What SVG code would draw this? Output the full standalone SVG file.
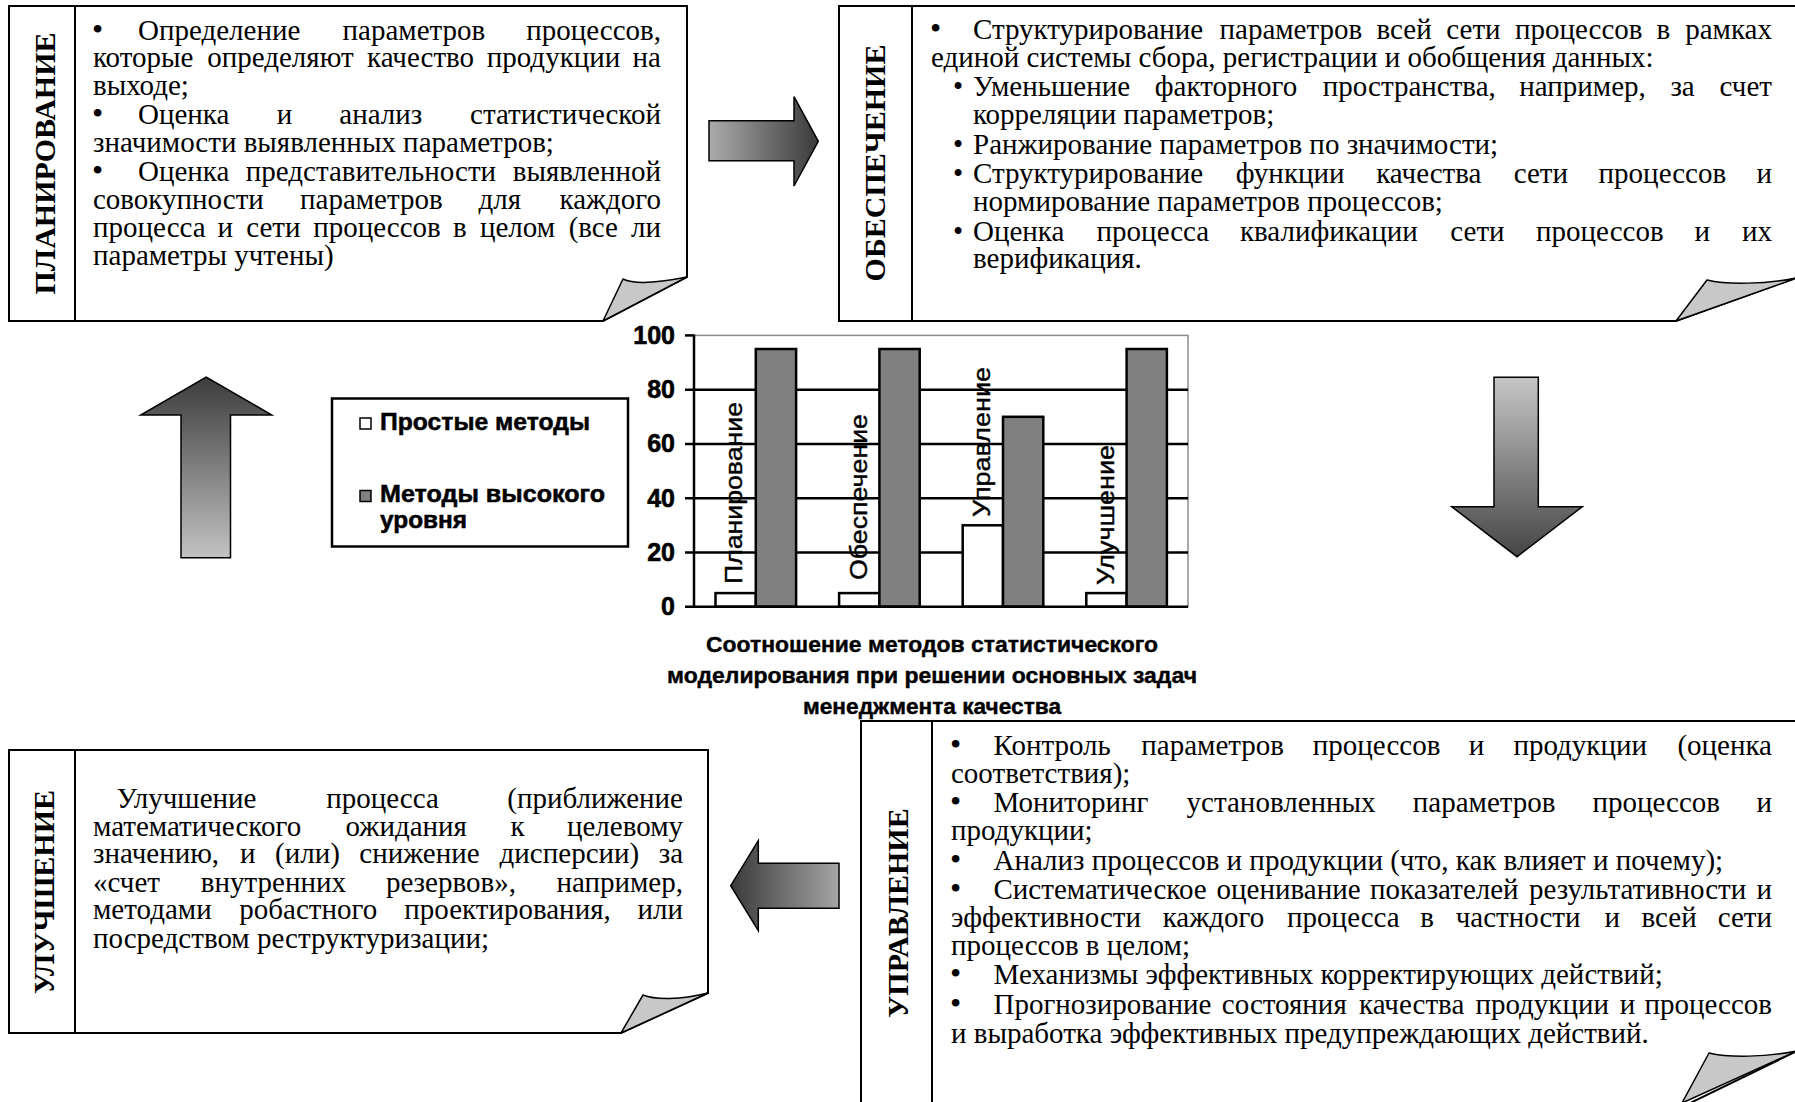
<svg xmlns="http://www.w3.org/2000/svg" width="1795" height="1102" viewBox="0 0 1795 1102">
<defs>
<style>
.box{fill:#fff;stroke:#000;stroke-width:2}
.dv{stroke:#000;stroke-width:2}
.fold{fill:#c8c8c8;stroke:#000;stroke-width:1.5;stroke-linejoin:round}
.t{font-family:"Liberation Serif","Times New Roman",serif;font-size:29px;fill:#000}
.b{font-size:32px}
.lbl{font-family:"Liberation Serif","Times New Roman",serif;font-size:30px;font-weight:bold;fill:#000;text-anchor:middle}
.ax{font-family:"Liberation Sans",Arial,sans-serif;font-weight:bold;font-size:25px;text-anchor:end;stroke:#000;stroke-width:0.6}
.cat{font-family:"Liberation Sans",Arial,sans-serif;font-size:24px;stroke:#000;stroke-width:0.4}
.ct{font-family:"Liberation Sans",Arial,sans-serif;font-weight:bold;font-size:22px;stroke:#000;stroke-width:0.4}
.lg{font-family:"Liberation Sans",Arial,sans-serif;font-weight:bold;font-size:23px;stroke:#000;stroke-width:0.5}
.grid{stroke:#000;stroke-width:2.5}
.bw{fill:#fff;stroke:#000;stroke-width:2.5}
.bg{fill:#808080;stroke:#000;stroke-width:2.5}
.arr{stroke:#000;stroke-width:1.5;stroke-linejoin:miter}
</style>
<linearGradient id="gR" x1="0" y1="0" x2="1" y2="0"><stop offset="0" stop-color="#ababab"/><stop offset="1" stop-color="#3a3a3a"/></linearGradient>
<linearGradient id="gL" x1="0" y1="0" x2="1" y2="0"><stop offset="0" stop-color="#3a3a3a"/><stop offset="1" stop-color="#a5a5a5"/></linearGradient>
<linearGradient id="gU" x1="0" y1="0" x2="0" y2="1"><stop offset="0" stop-color="#3c3c3c"/><stop offset="1" stop-color="#c2c2c2"/></linearGradient>
<linearGradient id="gD" x1="0" y1="0" x2="0" y2="1"><stop offset="0" stop-color="#c6c6c6"/><stop offset="1" stop-color="#454545"/></linearGradient>
</defs>
<rect width="1795" height="1102" fill="#fff"/>

<g id="node-planning">
<path class="box" d="M9,6 H687 V277 L603,321 H9 Z"/>
<line class="dv" x1="75" y1="6" x2="75" y2="321"/>
<path class="fold" d="M603,321 L623,279 C633,284 652,284 687,277 Z"/>
<text class="lbl" transform="translate(54.5,163.5) rotate(-90)">ПЛАНИРОВАНИЕ</text>
<text class="t" y="39.5"><tspan class="b" x="92">•</tspan><tspan x="138">Определение</tspan><tspan x="342.6">параметров</tspan><tspan x="661" text-anchor="end">процессов,</tspan></text>
<text class="t" y="67"><tspan x="93">которые</tspan><tspan x="207.2">определяют</tspan><tspan x="367">качество</tspan><tspan x="486.7">продукции</tspan><tspan x="661" text-anchor="end">на</tspan></text>
<text class="t" x="93" y="94.5">выходе;</text>
<text class="t" y="124"><tspan class="b" x="92">•</tspan><tspan x="138">Оценка</tspan><tspan x="276.8">и</tspan><tspan x="339.3">анализ</tspan><tspan x="661" text-anchor="end">статистической</tspan></text>
<text class="t" x="93" y="151.5">значимости выявленных параметров;</text>
<text class="t" y="181"><tspan class="b" x="92">•</tspan><tspan x="138">Оценка</tspan><tspan x="245.8">представительности</tspan><tspan x="661" text-anchor="end">выявленной</tspan></text>
<text class="t" y="208.5"><tspan x="93">совокупности</tspan><tspan x="300">параметров</tspan><tspan x="478.6">для</tspan><tspan x="661" text-anchor="end">каждого</tspan></text>
<text class="t" y="236.5"><tspan x="93">процесса</tspan><tspan x="217.6">и</tspan><tspan x="246.2">сети</tspan><tspan x="313.2">процессов</tspan><tspan x="453.1">в</tspan><tspan x="479.9">целом</tspan><tspan x="568.7">(все</tspan><tspan x="661" text-anchor="end">ли</tspan></text>
<text class="t" x="93" y="265">параметры учтены)</text>
</g>

<g id="node-provision">
<path class="box" d="M1800,6 H839 V321 H1676 L1800,276.5 Z"/>
<line class="dv" x1="912" y1="6" x2="912" y2="321"/>
<path class="fold" d="M1676,321 L1707,280 C1728,285 1765,284 1797,278 Z"/>
<text class="lbl" transform="translate(885,163) rotate(-90)">ОБЕСПЕЧЕНИЕ</text>
<text class="t" y="39"><tspan class="b" x="930">•</tspan><tspan x="973">Структурирование</tspan><tspan x="1219.5">параметров</tspan><tspan x="1376.6">всей</tspan><tspan x="1446.3">сети</tspan><tspan x="1514.9">процессов</tspan><tspan x="1656.4">в</tspan><tspan x="1772" text-anchor="end">рамках</tspan></text>
<text class="t" x="931" y="66.5">единой системы сбора, регистрации и обобщения данных:</text>
<text class="t" y="96"><tspan x="953">•</tspan><tspan x="973">Уменьшение</tspan><tspan x="1154.8">факторного</tspan><tspan x="1322.8">пространства,</tspan><tspan x="1519.3">например,</tspan><tspan x="1670.4">за</tspan><tspan x="1772" text-anchor="end">счет</tspan></text>
<text class="t" x="973" y="123.5">корреляции параметров;</text>
<text class="t" y="153.5"><tspan x="953">•</tspan><tspan x="973">Ранжирование параметров по значимости;</tspan></text>
<text class="t" y="183"><tspan x="953">•</tspan><tspan x="973">Структурирование</tspan><tspan x="1235.8">функции</tspan><tspan x="1376.2">качества</tspan><tspan x="1513.7">сети</tspan><tspan x="1598.6">процессов</tspan><tspan x="1772" text-anchor="end">и</tspan></text>
<text class="t" x="973" y="210.5">нормирование параметров процессов;</text>
<text class="t" y="240.5"><tspan x="953">•</tspan><tspan x="973">Оценка</tspan><tspan x="1096.6">процесса</tspan><tspan x="1239.9">квалификации</tspan><tspan x="1450.3">сети</tspan><tspan x="1536">процессов</tspan><tspan x="1694.6">и</tspan><tspan x="1772" text-anchor="end">их</tspan></text>
<text class="t" x="973" y="268">верификация.</text>
</g>

<g id="node-improvement">
<path class="box" d="M9,750 H708 V993 L621,1033 H9 Z"/>
<line class="dv" x1="75" y1="750" x2="75" y2="1033"/>
<path class="fold" d="M621,1033 L643,995 C655,1000 680,1000 708,993 Z"/>
<text class="lbl" transform="translate(53.5,892) rotate(-90)">УЛУЧШЕНИЕ</text>
<text class="t" y="808"><tspan x="116.5">Улучшение</tspan><tspan x="326.2">процесса</tspan><tspan x="683" text-anchor="end">(приближение</tspan></text>
<text class="t" y="835.5"><tspan x="93">математического</tspan><tspan x="345.6">ожидания</tspan><tspan x="510.4">к</tspan><tspan x="683" text-anchor="end">целевому</tspan></text>
<text class="t" y="863"><tspan x="93">значению,</tspan><tspan x="239.9">и</tspan><tspan x="275">(или)</tspan><tspan x="359.3">снижение</tspan><tspan x="499.6">дисперсии)</tspan><tspan x="683" text-anchor="end">за</tspan></text>
<text class="t" y="891.5"><tspan x="93">«счет</tspan><tspan x="200.8">внутренних</tspan><tspan x="385.9">резервов»,</tspan><tspan x="683" text-anchor="end">например,</tspan></text>
<text class="t" y="919"><tspan x="93">методами</tspan><tspan x="239.3">робастного</tspan><tspan x="404.3">проектирования,</tspan><tspan x="683" text-anchor="end">или</tspan></text>
<text class="t" x="93" y="947.5">посредством реструктуризации;</text>
</g>

<g id="node-management">
<path class="box" d="M1800,721 H861 V1108 H1680 L1797,1051 L1800,1051 Z"/>
<line class="dv" x1="932" y1="721" x2="932" y2="1108"/>
<path class="fold" d="M1682,1103 L1709,1053 C1730,1058 1765,1057 1797,1051 Z"/>
<text class="lbl" transform="translate(907.5,913) rotate(-90)">УПРАВЛЕНИЕ</text>
<text class="t" y="755"><tspan class="b" x="950">•</tspan><tspan x="993.5">Контроль</tspan><tspan x="1141.3">параметров</tspan><tspan x="1312.8">процессов</tspan><tspan x="1468.7">и</tspan><tspan x="1513.4">продукции</tspan><tspan x="1772" text-anchor="end">(оценка</tspan></text>
<text class="t" x="951" y="783">соответствия);</text>
<text class="t" y="812"><tspan class="b" x="950">•</tspan><tspan x="993.5">Мониторинг</tspan><tspan x="1186.6">установленных</tspan><tspan x="1412.8">параметров</tspan><tspan x="1592.4">процессов</tspan><tspan x="1772" text-anchor="end">и</tspan></text>
<text class="t" x="951" y="840">продукции;</text>
<text class="t" y="869.5"><tspan class="b" x="950">•</tspan><tspan x="993.5">Анализ процессов и продукции (что, как влияет и почему);</tspan></text>
<text class="t" y="899"><tspan class="b" x="950">•</tspan><tspan x="993.5">Систематическое</tspan><tspan x="1216.6">оценивание</tspan><tspan x="1370.1">показателей</tspan><tspan x="1529">результативности</tspan><tspan x="1772" text-anchor="end">и</tspan></text>
<text class="t" y="927"><tspan x="951">эффективности</tspan><tspan x="1162.7">каждого</tspan><tspan x="1287.1">процесса</tspan><tspan x="1420.3">в</tspan><tspan x="1455.7">частности</tspan><tspan x="1604.4">и</tspan><tspan x="1641.6">всей</tspan><tspan x="1772" text-anchor="end">сети</tspan></text>
<text class="t" x="951" y="955">процессов в целом;</text>
<text class="t" y="984"><tspan class="b" x="950">•</tspan><tspan x="993.5">Механизмы эффективных корректирующих действий;</tspan></text>
<text class="t" y="1014"><tspan class="b" x="950">•</tspan><tspan x="993.5">Прогнозирование</tspan><tspan x="1221.8">состояния</tspan><tspan x="1359">качества</tspan><tspan x="1475.4">продукции</tspan><tspan x="1619.8">и</tspan><tspan x="1772" text-anchor="end">процессов</tspan></text>
<text class="t" x="951" y="1043">и выработка эффективных предупреждающих действий.</text>
</g>

<g id="node-chart">
<rect x="694" y="335.4" width="494" height="271.3" fill="#fff" stroke="#8c8c8c" stroke-width="1.5"/>
<line class="grid" x1="685" y1="552.4" x2="1188" y2="552.4"/>
<line class="grid" x1="685" y1="498.2" x2="1188" y2="498.2"/>
<line class="grid" x1="685" y1="443.9" x2="1188" y2="443.9"/>
<line class="grid" x1="685" y1="389.7" x2="1188" y2="389.7"/>
<line class="grid" x1="685" y1="335.4" x2="694" y2="335.4"/>
<rect class="bw" x="715.5" y="593.1" width="40.3" height="13.6"/>
<rect class="bg" x="755.8" y="349" width="40.3" height="257.7"/>
<rect class="bw" x="839.1" y="593.1" width="40.3" height="13.6"/>
<rect class="bg" x="879.4" y="349" width="40.3" height="257.7"/>
<rect class="bw" x="962.7" y="525.3" width="40.3" height="81.4"/>
<rect class="bg" x="1003" y="416.8" width="40.3" height="189.9"/>
<rect class="bw" x="1086.3" y="593.1" width="40.3" height="13.6"/>
<rect class="bg" x="1126.6" y="349" width="40.3" height="257.7"/>
<line class="grid" x1="685" y1="606.7" x2="1188" y2="606.7"/>
<line class="grid" x1="694" y1="334.5" x2="694" y2="607.5"/>
<text class="ax" x="675" y="344">100</text>
<text class="ax" x="675" y="398.2">80</text>
<text class="ax" x="675" y="452.4">60</text>
<text class="ax" x="675" y="506.7">40</text>
<text class="ax" x="675" y="560.9">20</text>
<text class="ax" x="675" y="615.2">0</text>
<text class="cat" transform="translate(742,584) rotate(-90)" textLength="182" lengthAdjust="spacingAndGlyphs">Планирование</text>
<text class="cat" transform="translate(866.5,580) rotate(-90)" textLength="166" lengthAdjust="spacingAndGlyphs">Обеспечение</text>
<text class="cat" transform="translate(990,517) rotate(-90)" textLength="150" lengthAdjust="spacingAndGlyphs">Управление</text>
<text class="cat" transform="translate(1113.5,585) rotate(-90)" textLength="140" lengthAdjust="spacingAndGlyphs">Улучшение</text>
<text class="ct" x="932" y="652" text-anchor="middle" textLength="452" lengthAdjust="spacingAndGlyphs">Соотношение методов статистического</text>
<text class="ct" x="932" y="683" text-anchor="middle" textLength="530" lengthAdjust="spacingAndGlyphs">моделирования при решении основных задач</text>
<text class="ct" x="932" y="714" text-anchor="middle" textLength="258" lengthAdjust="spacingAndGlyphs">менеджмента качества</text>
</g>

<g id="node-legend">
<rect x="332" y="398.5" width="296" height="148" fill="#fff" stroke="#000" stroke-width="2.5"/>
<rect x="360" y="418" width="11" height="11" fill="#fff" stroke="#000" stroke-width="1.5"/>
<rect x="360" y="490.5" width="11" height="11" fill="#808080" stroke="#000" stroke-width="1.5"/>
<text class="lg" x="380" y="429.5" textLength="210" lengthAdjust="spacingAndGlyphs">Простые методы</text>
<text class="lg" x="380" y="501.5" textLength="225" lengthAdjust="spacingAndGlyphs">Методы высокого</text>
<text class="lg" x="380" y="528" textLength="87" lengthAdjust="spacingAndGlyphs">уровня</text>
</g>

<g id="connectors">
<path class="arr" fill="url(#gR)" d="M709,120.7 H794 V96.7 L818.3,141.3 L794,186 V160.7 H709 Z"/>
<path class="arr" fill="url(#gD)" d="M1494,377.3 H1538.3 V506.7 H1582.3 L1517,556.7 L1451.7,506.7 H1494 Z"/>
<path class="arr" fill="url(#gL)" d="M839,863.3 H758.3 V840.7 L730.7,885.7 L758.3,930.7 V908.3 H839 Z"/>
<path class="arr" fill="url(#gU)" d="M181,557.7 V415 H140.7 L206.2,377 L271.7,415 H230.5 V557.7 Z"/>
</g>
</svg>
